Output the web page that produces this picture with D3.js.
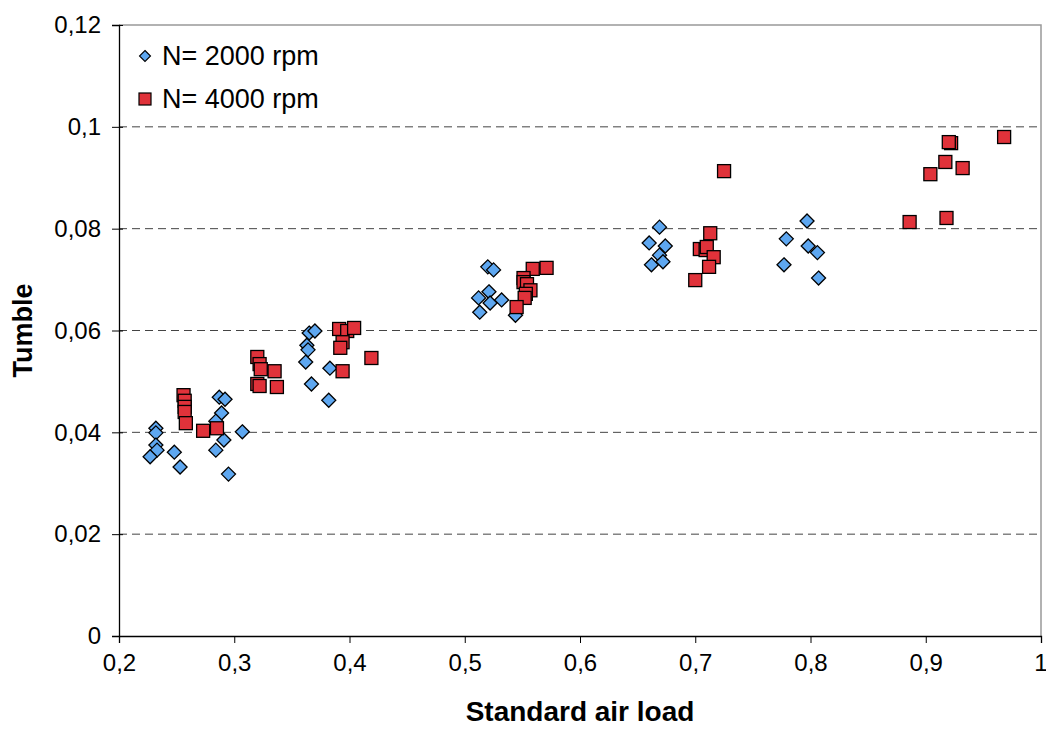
<!DOCTYPE html>
<html>
<head>
<meta charset="utf-8">
<script src="https://cdn.jsdelivr.net/npm/d3@7"></script>
<style>
  body { margin: 0; background: #fff; }
  svg text { font-family: "Liberation Sans", Arial, sans-serif; }
</style>
</head>
<body>
<div id="chart"></div>
<script>
// Tumble vs standard air load, two engine speeds
const load2000 = [
  0.232, 0.232, 0.232, 0.233, 0.227, 0.248, 0.253, 0.287, 0.292, 0.289, 0.284, 0.291, 0.284, 0.307, 0.295,
  0.365, 0.370, 0.363, 0.364, 0.362, 0.367, 0.383, 0.382,
  0.520, 0.525, 0.512, 0.521, 0.522, 0.532, 0.513, 0.544,
  0.669, 0.660, 0.674, 0.669, 0.662, 0.672,
  0.797, 0.779, 0.798, 0.806, 0.777, 0.807
];
const tumble2000 = [
  0.0408, 0.0399, 0.0375, 0.0365, 0.0352, 0.0361, 0.0332, 0.0469, 0.0465, 0.0438, 0.0422, 0.0385, 0.0365, 0.0401, 0.0318,
  0.0595, 0.0599, 0.0571, 0.0562, 0.0538, 0.0495, 0.0526, 0.0463,
  0.0725, 0.0719, 0.0664, 0.0676, 0.0654, 0.0660, 0.0636, 0.0630,
  0.0803, 0.0772, 0.0766, 0.0748, 0.0729, 0.0735,
  0.0815, 0.0780, 0.0766, 0.0753, 0.0729, 0.0703
];
const load4000 = [
  0.256, 0.257, 0.257, 0.257, 0.258, 0.273, 0.285,
  0.320, 0.322, 0.323, 0.335, 0.320, 0.322, 0.337,
  0.391, 0.398, 0.404, 0.394, 0.392, 0.394, 0.419,
  0.559, 0.571, 0.551, 0.551, 0.554, 0.557, 0.553, 0.552, 0.545,
  0.713, 0.704, 0.709, 0.710, 0.716, 0.712, 0.700, 0.725,
  0.922, 0.920, 0.968, 0.917, 0.932, 0.904, 0.886, 0.918
];
const tumble4000 = [
  0.0473, 0.0462, 0.0450, 0.0440, 0.0418, 0.0403, 0.0408,
  0.0548, 0.0534, 0.0524, 0.0520, 0.0495, 0.0491, 0.0489,
  0.0603, 0.0599, 0.0605, 0.0577, 0.0566, 0.0520, 0.0546,
  0.0721, 0.0723, 0.0703, 0.0695, 0.0691, 0.0679, 0.0672, 0.0664, 0.0646,
  0.0791, 0.0760, 0.0758, 0.0764, 0.0744, 0.0725, 0.0699, 0.0913,
  0.0968, 0.0970, 0.0980, 0.0931, 0.0919, 0.0907, 0.0813, 0.0821
];
const xTicks = [0.2, 0.3, 0.4, 0.5, 0.6, 0.7, 0.8, 0.9, 1];
const yTicks = [0, 0.02, 0.04, 0.06, 0.08, 0.1, 0.12];
const seriesNames = ['N= 2000 rpm', 'N= 4000 rpm'];

const width = 1046, height = 729;
const margin = {left: 119, right: 5, top: 25, bottom: 93};

const svg = d3.select('#chart').append('svg')
    .attr('width', width)
    .attr('height', height);

const x = d3.scaleLinear().domain([0.2, 1]).range([margin.left, width - margin.right]);
const y = d3.scaleLinear().domain([0, 0.12]).range([height - margin.bottom, margin.top]);

const fmt = d => d3.format('~g')(d).replace('.', ',');

// dashed gridlines
svg.append('g')
    .selectAll('line')
    .data(yTicks.filter(d => d > 0 && d < 0.12))
    .enter().append('line')
    .attr('x1', x(0.2)).attr('x2', x(1))
    .attr('y1', d => y(d)).attr('y2', d => y(d))
    .attr('stroke', '#444')
    .attr('stroke-width', 1)
    .attr('stroke-dasharray', '8,5');

// grey plot frame (top and right)
svg.append('path')
    .attr('d', `M${x(0.2)},${y(0.12)}H${x(1)}V${y(0)}`)
    .attr('fill', 'none')
    .attr('stroke', '#999')
    .attr('stroke-width', 1.5);

// axes
const yAxis = svg.append('g')
    .attr('transform', `translate(${x(0.2)},0)`)
    .call(d3.axisLeft(y).tickValues(yTicks).tickFormat(fmt).tickSize(7).tickPadding(11));
yAxis.selectAll('.tick line').attr('x2', -7).attr('x1', 4);

const xAxis = svg.append('g')
    .attr('transform', `translate(0,${y(0)})`)
    .call(d3.axisBottom(x).tickValues(xTicks).tickFormat(fmt).tickSize(7).tickPadding(11));
// last label would touch the window edge; nudge it in a little
xAxis.selectAll('.tick text').filter(d => d === 1).attr('text-anchor', 'end').attr('x', 6);

[xAxis, yAxis].forEach(g => {
    g.select('.domain').attr('stroke', '#000').attr('stroke-width', 1.3);
    g.selectAll('.tick line').attr('stroke', '#000');
    g.selectAll('text').attr('font-size', 24).attr('fill', '#000')
        .style('font-family', '"Liberation Sans", Arial, sans-serif');
});

// axis titles
svg.append('text')
    .attr('x', (x(0.2) + x(1)) / 2)
    .attr('y', 721)
    .attr('text-anchor', 'middle')
    .attr('font-size', 28)
    .attr('font-weight', 'bold')
    .text('Standard air load');

svg.append('text')
    .attr('transform', `translate(32,${(y(0) + y(0.12)) / 2}) rotate(-90)`)
    .attr('text-anchor', 'middle')
    .attr('font-size', 27)
    .attr('font-weight', 'bold')
    .text('Tumble');

// markers
const pts2000 = load2000.map((v, i) => ({x: v, y: tumble2000[i]}));
const pts4000 = load4000.map((v, i) => ({x: v, y: tumble4000[i]}));

const diamond = 'M0,-7L7,0L0,7L-7,0Z';
const blue = '#5ea7f0', red = '#e0323a';

svg.append('g').selectAll('path')
    .data(pts2000)
    .enter().append('path')
    .attr('d', diamond)
    .attr('transform', d => `translate(${x(d.x)},${y(d.y)})`)
    .attr('fill', blue)
    .attr('stroke', '#000')
    .attr('stroke-width', 1.3);

svg.append('g').selectAll('rect')
    .data(pts4000)
    .enter().append('rect')
    .attr('x', d => x(d.x) - 6.5)
    .attr('y', d => y(d.y) - 6.5)
    .attr('width', 13)
    .attr('height', 13)
    .attr('fill', red)
    .attr('stroke', '#000')
    .attr('stroke-width', 1.3);

// legend
const legend = svg.append('g').attr('transform', 'translate(145,56)');
legend.append('path')
    .attr('d', 'M0,-5.5L5.5,0L0,5.5L-5.5,0Z')
    .attr('fill', blue).attr('stroke', '#000').attr('stroke-width', 1.1);
legend.append('rect')
    .attr('x', -6).attr('y', 37).attr('width', 12).attr('height', 12)
    .attr('fill', red).attr('stroke', '#000').attr('stroke-width', 1.2);
legend.selectAll('text')
    .data(seriesNames)
    .enter().append('text')
    .attr('x', 17)
    .attr('y', (d, i) => i * 43 + 9)
    .attr('font-size', 27)
    .text(d => d);
</script>
</body>
</html>
